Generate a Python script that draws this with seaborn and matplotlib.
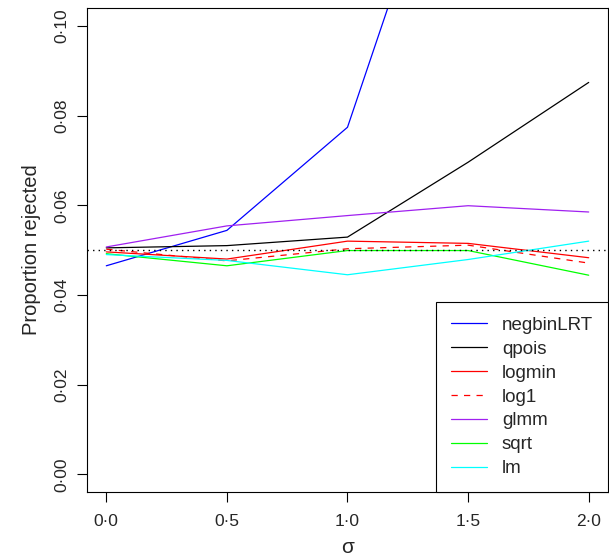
import matplotlib
matplotlib.use("Agg")
import matplotlib.pyplot as plt
import seaborn as sns
import pandas as pd

sigma = [0.0, 0.5, 1.0, 1.5, 2.0]
negbinLRT = [0.0465, 0.0544, 0.0774, 0.157, 0.23]
qpois = [0.0505, 0.0510, 0.0529, 0.0696, 0.0874]
logmin = [0.0496, 0.0480, 0.0520, 0.0515, 0.0483]
log1 = [0.0502, 0.0476, 0.0503, 0.0511, 0.0471]
glmm = [0.0507, 0.0554, 0.0577, 0.0599, 0.0585]
sqrt_ = [0.0492, 0.0465, 0.0499, 0.0499, 0.0444]
lm = [0.0490, 0.0477, 0.0445, 0.0479, 0.0520]

series_names = ["negbinLRT", "qpois", "logmin", "log1", "glmm", "sqrt", "lm"]
series_vals = [negbinLRT, qpois, logmin, log1, glmm, sqrt_, lm]
colors = ["#0000FF", "#000000", "#FF0000", "#FF0000", "#A020F0", "#00FF00", "#00FFFF"]
styles = ["-", "-", "-", (0, (5, 5)), "-", "-", "-"]

x_ticks = [0.0, 0.5, 1.0, 1.5, 2.0]
x_tick_labels = ["0·0", "0·5", "1·0", "1·5", "2·0"]
y_ticks = [0.00, 0.02, 0.04, 0.06, 0.08, 0.10]
y_tick_labels = ["0·00", "0·02", "0·04", "0·06", "0·08", "0·10"]

rows = []
for name, vals in zip(series_names, series_vals):
    for s, v in zip(sigma, vals):
        rows.append({"sigma": s, "value": v, "method": name})
df = pd.DataFrame(rows)

sns.set_style("white")
plt.rcParams["font.family"] = ["Liberation Sans", "DejaVu Sans"]

fig = plt.figure(figsize=(6.09, 5.60), dpi=100)
ax = fig.add_axes([87 / 609, (560 - 492.2) / 560, (608 - 87) / 609, (492.2 - 8) / 560])

for name, c, ls in zip(series_names, colors, styles):
    sub = df[df["method"] == name]
    sns.lineplot(data=sub, x="sigma", y="value", ax=ax, color=c, linestyle=ls,
                 linewidth=0.9, label=name, estimator=None, sort=False)

ax.axhline(0.05, color="black", linestyle=(0, (1, 3)), linewidth=1.0)

ax.set_xlim(-0.08, 2.08)
ax.set_ylim(-0.004, 0.104)
ax.set_xticks(x_ticks)
ax.set_xticklabels(x_tick_labels, fontsize=12.5)
ax.set_yticks(y_ticks)
ax.set_yticklabels(y_tick_labels, fontsize=12.5, rotation=90, va="center")
ax.tick_params(axis="both", direction="out", length=7, width=0.8, color="black",
               bottom=True, left=True)
ax.tick_params(axis="x", pad=9)
ax.tick_params(axis="y", pad=6)
for sp in ax.spines.values():
    sp.set_visible(True)
    sp.set_color("black")
    sp.set_linewidth(0.8)

ax.set_xlabel("σ", fontsize=15, labelpad=6)
ax.set_ylabel("Proportion rejected", fontsize=14.5, labelpad=9)

handles, labels = ax.get_legend_handles_labels()
leg = ax.legend(handles, labels, loc="lower right", fontsize=13.5, frameon=True,
                fancybox=False, framealpha=1, edgecolor="black", borderaxespad=0,
                handlelength=1.92, handletextpad=0.8, labelspacing=0.36,
                borderpad=0.8)
leg.get_frame().set_linewidth(0.8)

fig.savefig("out.png", dpi=100)
